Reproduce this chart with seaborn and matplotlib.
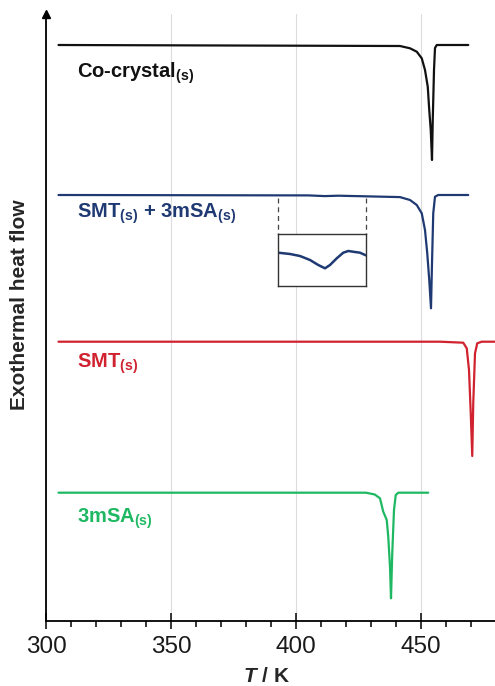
import numpy as np
import pandas as pd
import matplotlib
matplotlib.use("Agg")
import matplotlib.pyplot as plt
import seaborn as sns

# ---- data (heat flow in arbitrary, offset units) ----
cocrystal_T = [305, 441.6, 445.6, 448.3, 450.3, 451.6, 452.7, 453.3, 453.9, 454.4,
               454.7, 455.2, 455.6, 456.3, 468.9]
cocrystal_hf = [577, 576, 573.7, 570.3, 563.7, 552, 535.3, 512, 492, 462,
                502, 552, 574, 577, 577]

mix_T = [305, 405, 411.5, 417, 441.6, 445.6, 448.3, 450.3, 451.6, 452.5, 453.3, 454.0,
         454.4, 454.9, 455.6, 456.9, 468.9]
mix_hf = [427, 426.6, 425.9, 426.3, 424.9, 422, 417, 408.7, 392, 368.7, 342, 313.7,
          358.7, 408.7, 425.3, 427, 427]

smt_T = [305, 457.6, 466.9, 468.3, 469.2, 469.9, 470.5, 470.9, 471.6, 472.5, 474.3, 480]
smt_hf = [280.3, 280.3, 279.3, 273.7, 252, 208.7, 166, 218.7, 268.7, 278.7, 280.3, 280.3]

msa_T = [305, 428.0, 431.5, 433.6, 434.9, 436.3, 436.9, 437.6, 438.0, 438.5, 439.2,
         439.9, 440.9, 452.9]
msa_hf = [129.3, 129.3, 127.5, 123.7, 110.3, 102, 85.3, 55.3, 23.7, 68.7, 112,
          127, 129.3, 129.3]

inset_T = [392.9, 397.6, 401.6, 405.6, 408.9, 411.6, 413.6, 416.3, 418.9, 420.9,
           423.6, 425.6, 427.9]
inset_hf = [33.3, 32, 30, 26, 21, 17.7, 21, 27.7, 33.3, 35, 34, 33.3, 30.7]

labels = [r"Co-crystal$_{\mathbf{(s)}}$",
          r"SMT$_{\mathbf{(s)}}$ + 3mSA$_{\mathbf{(s)}}$",
          r"SMT$_{\mathbf{(s)}}$",
          r"3mSA$_{\mathbf{(s)}}$"]
colors = ["#111111", "#1f3a73", "#d0222f", "#1fb862"]
label_y = [549, 408, 258, 103]
x_ticks = [300, 350, 400, 450]

# ---- style ----
sns.set_theme(style="white")
plt.rcParams["font.family"] = ["Liberation Sans", "DejaVu Sans"]
plt.rcParams["mathtext.fontset"] = "custom"
plt.rcParams["mathtext.rm"] = "Liberation Sans"
plt.rcParams["mathtext.bf"] = "Liberation Sans:bold"
plt.rcParams["mathtext.it"] = "Liberation Sans:italic:bold"

fig = plt.figure(figsize=(4.95, 6.86), dpi=100)
ax = fig.add_axes([46 / 495, 65 / 686, 1 - 46 / 495, 607 / 686])

curves = [(cocrystal_T, cocrystal_hf), (mix_T, mix_hf), (smt_T, smt_hf), (msa_T, msa_hf)]
frames = []
for i, (t, h) in enumerate(curves):
    frames.append(pd.DataFrame({"T": t, "hf": h, "sample": labels[i]}))
df = pd.concat(frames, ignore_index=True)

for i, lab in enumerate(labels):
    sub = df[df["sample"] == lab]
    sns.lineplot(data=sub, x="T", y="hf", ax=ax, color=colors[i], lw=1.6,
                 sort=False, estimator=None, legend=False)
    ax.text(312.5, label_y[i], lab, color=colors[i], fontsize=14.5,
            fontweight="bold", va="center", ha="left")

ax.set_xlim(300, 479.6)
ax.set_ylim(1, 608)
ax.set_xticks(x_ticks)
ax.set_xticks(np.arange(300, 480, 10), minor=True)
ax.set_yticks([])
ax.tick_params(axis="x", which="major", direction="inout", length=11, width=1.1,
               labelsize=17.5, pad=5, color="black", bottom=True, labelcolor="#1a1a1a")
ax.tick_params(axis="x", which="minor", direction="out", length=4, width=1.1,
               color="black", bottom=True)
ax.grid(axis="x", which="major", color="#dcdcdc", lw=0.8)
ax.set_axisbelow(True)
for s in ["top", "right"]:
    ax.spines[s].set_visible(False)
for s in ["left", "bottom"]:
    ax.spines[s].set_color("black")
    ax.spines[s].set_linewidth(1.3)
ax.plot(0, 1, marker="^", color="black", markersize=6, transform=ax.transAxes,
        clip_on=False)
ax.set_xlabel("")
ax.set_ylabel("")

# dashed connectors to inset
for tx in [inset_T[0] - 0.1, inset_T[-1] + 0.1]:
    ax.plot([tx, tx], [424, 388], color="#444444", lw=0.9, ls=(0, (4, 3)))

# inset
axin = fig.add_axes([278 / 495, 400 / 686, 88 / 495, 52 / 686])
sns.lineplot(x=inset_T, y=inset_hf, ax=axin, color=colors[1], lw=1.8,
             sort=False, estimator=None)
axin.set_xlim(392.8, 428)
axin.set_ylim(0, 52)
axin.set_xticks([])
axin.set_yticks([])
for s in axin.spines.values():
    s.set_visible(True)
    s.set_color("#333333")
    s.set_linewidth(1.0)

fig.text(266 / 495, 1 - 676 / 686, r"$T$ / K", fontsize=15, fontweight="bold",
         ha="center", va="center")
fig.text(20 / 495, 1 - 305 / 686, "Exothermal heat flow", fontsize=15,
         fontweight="bold", rotation=90, ha="center", va="center")

fig.savefig("out.png", dpi=100)
